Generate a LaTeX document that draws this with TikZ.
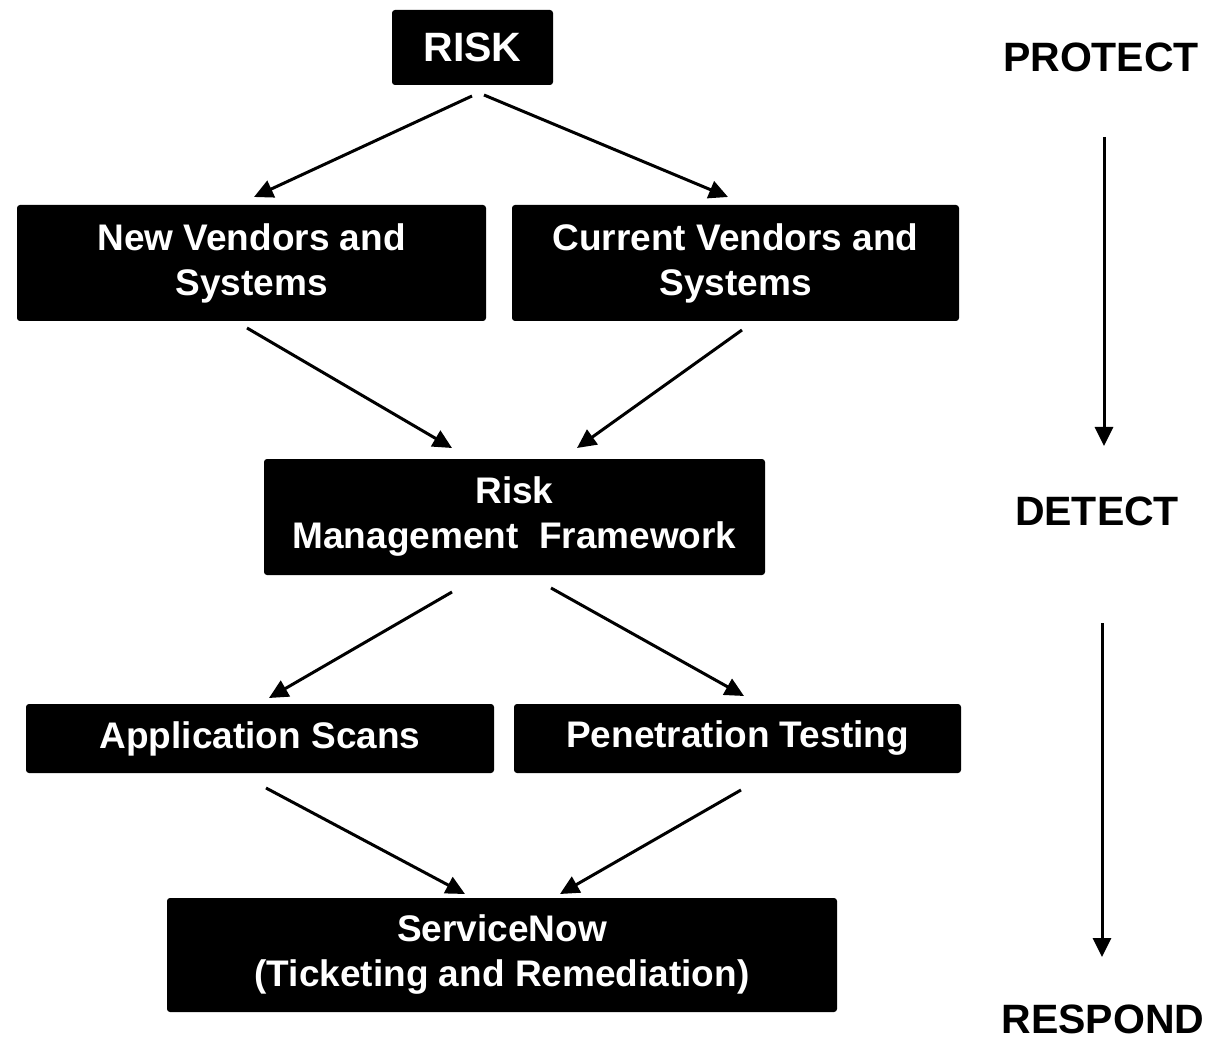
\documentclass[tikz,border=0pt]{standalone}
\usepackage{fontspec}
\setmainfont{Liberation Sans}
\usetikzlibrary{arrows.meta}
\begin{document}
\begin{tikzpicture}[x=1pt,y=-1pt,
  box/.style={fill=black, draw=none, rounded corners=3pt, text=white,
    font=\bfseries\fontsize{37}{45}\selectfont, align=center,
    inner sep=0pt, anchor=center},
  arr/.style={line width=3pt, -{Triangle[length=19pt,width=18pt]}},
  side/.style={font=\bfseries\fontsize{41}{48}\selectfont, text=black, anchor=center}]
\useasboundingbox (0,0) rectangle (1221,1040);

% boxes
\node[box, minimum width=161pt, minimum height=75pt, font=\bfseries\fontsize{41}{48}\selectfont] (risk) at (472.5,47.5) {RISK};
\node[box, minimum width=469pt, minimum height=116pt] (nv) at (251.5,263) {New Vendors and\\Systems};
\node[box, minimum width=447pt, minimum height=116pt] (cv) at (735.5,263) {Current Vendors and\\Systems};
\node[box, minimum width=501pt, minimum height=116pt] (rmf) at (514.5,517) {Risk\\Management\ \ Framework};
\node[box, minimum width=468pt, minimum height=69pt] (app) at (260,738.5) {Application Scans};
\node[box, minimum width=447pt, minimum height=69pt] (pen) at (737.5,738.5) {Penetration Testing};
\node[box, minimum width=670pt, minimum height=114pt] (sn) at (502,955) {ServiceNow\\(Ticketing and Remediation)};

% phase labels
\node[side] (protect) at (1101,57) {PROTECT};
\node[side] (detect) at (1097,511) {DETECT};
\node[side] (respond) at (1103,1019) {RESPOND};

% connector end points
\coordinate (r1) at (472,96);   \coordinate (nvin) at (254,197);
\coordinate (r2) at (484,95);   \coordinate (cvin) at (728,197);
\coordinate (nvout) at (247,328); \coordinate (rmfin1) at (452,448);
\coordinate (cvout) at (742,330); \coordinate (rmfin2) at (577,448);
\coordinate (rmfout1) at (452,592); \coordinate (appin) at (269,698);
\coordinate (rmfout2) at (551,588); \coordinate (penin) at (744,696);
\coordinate (appout) at (266,788); \coordinate (snin1) at (465,894);
\coordinate (penout) at (741,790); \coordinate (snin2) at (560,894);
\coordinate (p1) at (1104,137); \coordinate (p2) at (1104,446);
\coordinate (d1) at (1102,623); \coordinate (d2) at (1102,957);

% connectors
\draw[arr] (r1) -- (nvin);
\draw[arr] (r2) -- (cvin);
\draw[arr] (nvout) -- (rmfin1);
\draw[arr] (cvout) -- (rmfin2);
\draw[arr] (rmfout1) -- (appin);
\draw[arr] (rmfout2) -- (penin);
\draw[arr] (appout) -- (snin1);
\draw[arr] (penout) -- (snin2);
\draw[arr] (p1) -- (p2);
\draw[arr] (d1) -- (d2);
\end{tikzpicture}
\end{document}
